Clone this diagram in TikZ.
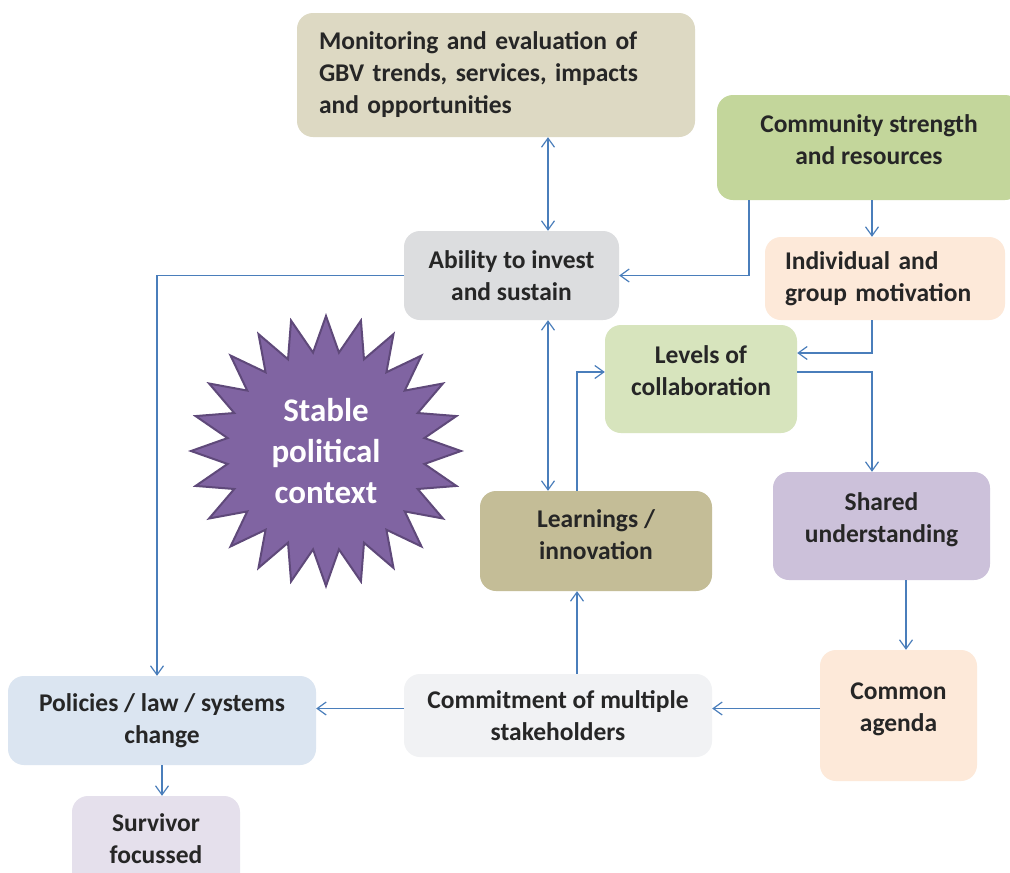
\documentclass[tikz,border=0pt]{standalone}
\usepackage{fontspec}
\setmainfont{Carlito}
\usetikzlibrary{arrows.meta,shapes.geometric}
\definecolor{ink}{HTML}{262626}
\definecolor{flow}{HTML}{4A7EBB}
\definecolor{monfill}{HTML}{DDD9C3}
\definecolor{comfill}{HTML}{C3D69B}
\definecolor{ablfill}{HTML}{DCDDDF}
\definecolor{peach}{HTML}{FDE9D9}
\definecolor{levfill}{HTML}{D7E4BD}
\definecolor{lrnfill}{HTML}{C4BD97}
\definecolor{shrfill}{HTML}{CCC1DA}
\definecolor{cmtfill}{HTML}{F1F2F4}
\definecolor{polfill}{HTML}{DBE5F1}
\definecolor{surfill}{HTML}{E5E0EC}
\definecolor{starfill}{HTML}{8064A2}
\definecolor{stardraw}{HTML}{5F497A}
% extra depth so the text sits a little above the box centre
\newcommand{\lift}{\rule[-16pt]{0pt}{16pt}}

\begin{document}
\begin{tikzpicture}[
  x=1pt,y=-1pt,
  box/.style={rectangle,rounded corners=16pt,align=center,text=ink,font=\fontsize{25.5}{32}\selectfont\bfseries},
  flowline/.style={draw=flow,line width=1.2pt,-{Straight Barb[length=9pt,width=13pt]}},
  twoway/.style={flowline,{Straight Barb[length=9pt,width=13pt]}-{Straight Barb[length=9pt,width=13pt]}},
  burst/.style={star,star points=24,star point ratio=1.36,minimum size=270pt,fill=starfill,draw=stardraw,line width=2pt,text=white,align=center,font=\fontsize{33}{41}\selectfont\bfseries}
]
\useasboundingbox[fill=white] (0,0) rectangle (1010,873);

% boxes
\node[box,fill=monfill,minimum width=398pt,minimum height=124pt,text width=354pt,inner xsep=22pt,align=left] (mon) at (496,75) {Monitoring and evaluation of\\GBV trends, services, impacts\\and opportunities};
\node[box,fill=comfill,minimum width=304pt,minimum height=105pt] (com) at (869,147.5) {Community strength\\and resources\lift};
\node[box,fill=ablfill,minimum width=215pt,minimum height=89pt] (abl) at (511.5,275.5) {Ability to invest\\and sustain};
\node[box,fill=peach,minimum width=240pt,minimum height=83pt,text width=200pt,inner xsep=20pt,align=left] (ind) at (885,278.5) {Individual and\\group motivation};
\node[box,fill=levfill,minimum width=192pt,minimum height=108pt] (lev) at (701,379) {Levels of\\collaboration\lift};
\node[box,fill=lrnfill,minimum width=232pt,minimum height=100pt] (lrn) at (596,541) {Learnings /\\innovation\rule[-12pt]{0pt}{12pt}};
\node[box,fill=shrfill,minimum width=217pt,minimum height=108pt] (shr) at (881.5,526) {Shared\\understanding\lift};
\node[box,fill=peach,minimum width=157pt,minimum height=131pt] (cag) at (898.5,715.5) {Common\\agenda\lift};
\node[box,fill=cmtfill,minimum width=308pt,minimum height=83pt] (cmt) at (558,715.5) {Commitment of multiple\\stakeholders};
\node[box,fill=polfill,minimum width=308pt,minimum height=89pt] (pol) at (162,720.5) {Policies / law / systems\\change};
\node[box,fill=surfill,minimum width=168pt,minimum height=102pt] (sur) at (156,847) {Survivor\\focussed\lift};
\node[burst] (ctx) at (326,451) {Stable\\political\\context};

% where the vertical runs sit
\coordinate (ax) at (548,0);
\coordinate (cx) at (749,0);
\coordinate (rx) at (872,0);
\coordinate (lx) at (577,0);
\coordinate (px) at (157,0);
\coordinate (sx) at (906,0);

% connectors
\draw[twoway] (mon.south -| ax) -- (abl.north -| ax);
\draw[twoway] (abl.south -| ax) -- (lrn.north -| ax);
\draw[flowline] (com.south -| cx) |- (abl.east);
\draw[flowline] (com.south -| rx) -- (ind.north -| rx);
\draw[flowline] (abl.west) -| (px |- pol.north);
\draw[flowline] (ind.south -| rx) |- ([yshift=26pt]lev.east);
\draw[flowline] ([yshift=7pt]lev.east) -| (shr.north -| rx);
\draw[flowline] (lrn.north -| lx) |- ([yshift=7pt]lev.west);
\draw[flowline] (shr.south -| sx) -- (cag.north -| sx);
\draw[flowline] ([yshift=7pt]cag.west) -- ([yshift=7pt]cmt.east);
\draw[flowline] (cmt.north -| lx) -- (lrn.south -| lx);
\draw[flowline] ([yshift=7pt]cmt.west) -- ([yshift=7pt]cmt.west -| pol.east);
\draw[flowline] (pol.south) -- (pol.south |- sur.north);
\end{tikzpicture}
\end{document}
